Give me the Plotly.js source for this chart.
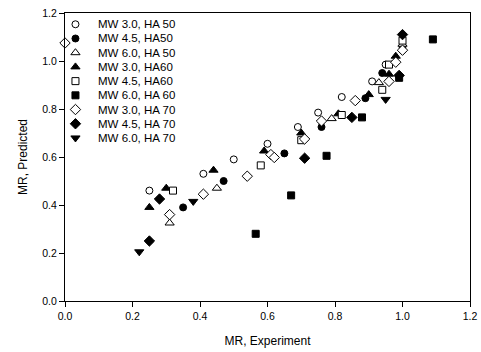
<!DOCTYPE html>
<html><head><meta charset="utf-8">
<script src="https://cdn.plot.ly/plotly-3.0.1.min.js"></script>
<style>html,body{margin:0;padding:0;background:#fff}#c{width:481px;height:352px}</style>
</head><body><div id="c"></div>
<script>
const names = ["MW 3.0, HA 50","MW 4.5, HA50","MW 6.0, HA 50","MW 3.0, HA60","MW 4.5, HA60","MW 6.0, HA 60","MW 3.0, HA 70","MW 4.5, HA 70","MW 6.0, HA 70"];
const symbols = ["circle","circle","triangle-up","triangle-up","square","square","diamond","diamond","triangle-down"];
const filled = [false,true,false,true,false,true,false,true,true];
const sizes = [7,7,8,8,7,7,8,8,8];

const x1 = [0.25,0.41,0.50,0.60,0.69,0.75,0.82,0.91,0.95,1.0];
const y1 = [0.46,0.53,0.59,0.655,0.725,0.785,0.85,0.915,0.985,1.045];
const x2 = [0.35,0.47,0.65,0.76,0.89,0.94,1.0];
const y2 = [0.39,0.50,0.615,0.725,0.845,0.95,1.06];
const x3 = [0.31,0.45,0.79,0.93,1.0];
const y3 = [0.325,0.47,0.76,0.91,1.07];
const x4 = [0.25,0.30,0.44,0.59,0.70,0.81,0.90,0.96,0.98];
const y4 = [0.39,0.47,0.545,0.625,0.70,0.78,0.86,0.945,1.02];
const x5 = [0.32,0.58,0.70,0.82,0.94,0.96,1.0];
const y5 = [0.46,0.565,0.67,0.775,0.88,0.985,1.085];
const x6 = [0.565,0.67,0.775,0.88,0.99,1.09];
const y6 = [0.28,0.44,0.605,0.765,0.93,1.09];
const x7 = [0.0,0.31,0.41,0.54,0.61,0.62,0.71,0.76,0.86,0.96,0.98,1.0];
const y7 = [1.075,0.36,0.445,0.52,0.61,0.598,0.675,0.75,0.835,0.915,0.995,1.045];
const x8 = [0.25,0.28,0.71,0.85,0.99,1.0];
const y8 = [0.25,0.425,0.595,0.765,0.94,1.11];
const x9 = [0.22,0.38,0.95];
const y9 = [0.205,0.415,0.84];

const xs = [x1,x2,x3,x4,x5,x6,x7,x8,x9];
const ys = [y1,y2,y3,y4,y5,y6,y7,y8,y9];

function mk(i){
  return {symbol: symbols[i], size: sizes[i], color: filled[i] ? "#000" : "#fff", line:{color:"#000", width:1}};
}
const traces = xs.map((x,i)=>({x:x, y:ys[i], type:"scatter", mode:"markers", name:names[i], marker:mk(i), cliponaxis:false, showlegend:false}));

// custom legend (placed in layout space of the plot)
const legX = 0.031, legX2 = 0.091, legY0 = 1.153, legStep = 0.0592;
const annotations = [];
names.forEach((n,i)=>{
  const yy = legY0 - i*legStep;
  traces.push({x:[legX], y:[yy], type:"scatter", mode:"markers", marker:mk(i), showlegend:false, hoverinfo:"skip", cliponaxis:false});
  annotations.push({x:legX2, y:yy, xref:"x", yref:"y", text:n, showarrow:false, xanchor:"left", yanchor:"middle", font:{family:"Liberation Sans, Arial", size:11.5, color:"#000"}});
});

const axisCommon = {showgrid:false, zeroline:false, showline:true, linecolor:"#000", linewidth:1, mirror:true, ticks:"outside", ticklen:5, tickcolor:"#000", tickformat:".1f", dtick:0.2, tick0:0, tickfont:{family:"Liberation Sans, Arial", size:10.5, color:"#000"}};
const layout = {
  width:481, height:352,
  margin:{l:65, r:11, t:13, b:51},
  paper_bgcolor:"#fff", plot_bgcolor:"#fff",
  showlegend:false,
  xaxis: Object.assign({}, axisCommon, {range:[0,1.2], title:{text:"MR, Experiment", font:{family:"Liberation Sans, Arial", size:12, color:"#000"}, standoff:16}}),
  yaxis: Object.assign({}, axisCommon, {range:[0,1.2], title:{text:"MR, Predicted", font:{family:"Liberation Sans, Arial", size:12, color:"#000"}, standoff:12}}),
  annotations: annotations
};
Plotly.newPlot("c", traces, layout, {staticPlot:true, displayModeBar:false});
</script>
</body></html>
